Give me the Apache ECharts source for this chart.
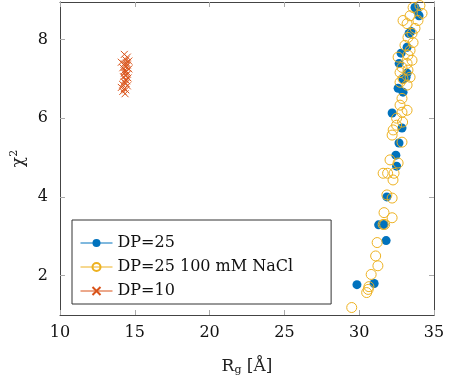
<!DOCTYPE html>
<html>
<head>
<meta charset="utf-8">
<script src="https://cdn.jsdelivr.net/npm/echarts@6/dist/echarts.min.js"></script>
<style>
  html, body { margin: 0; padding: 0; background: #fff; }
  #chart { width: 453px; height: 381px; }
</style>
</head>
<body>
<div id="chart"></div>
<script>
// Rg [Å] vs chi^2
const dp25 = [
  [29.85, 1.77], [31.0, 1.8], [31.8, 2.89], [31.3, 3.29], [31.65, 3.3], [31.85, 4.0],
  [32.5, 4.78], [32.45, 5.06], [32.66, 5.37], [32.86, 5.75], [32.2, 6.13], [32.6, 6.76],
  [32.93, 6.66], [33.13, 7.04], [32.93, 6.99], [33.2, 7.14], [32.67, 7.39], [32.8, 7.65],
  [33.2, 7.8], [33.33, 8.15], [33.46, 8.2], [33.73, 8.81], [33.86, 8.73], [34.0, 8.6]
];
const dp25NaCl = [
  [29.5, 1.19], [30.5, 1.57], [30.6, 1.65], [30.65, 1.72], [30.8, 2.03], [31.25, 2.25],
  [31.1, 2.5], [31.2, 2.84], [31.7, 3.3], [31.66, 3.6], [32.2, 3.47], [31.6, 3.3],
  [31.85, 4.05], [32.2, 3.97], [31.6, 4.6], [31.9, 4.6], [32.26, 4.43], [32.33, 4.6],
  [32.06, 4.94], [32.6, 4.86], [32.2, 5.57], [32.27, 5.7], [32.5, 5.82], [32.9, 5.9],
  [32.86, 5.39], [32.5, 6.0], [32.86, 6.15], [33.2, 6.2], [32.73, 6.33], [32.86, 6.5],
  [33.2, 6.84], [32.73, 6.91], [32.93, 7.0], [33.4, 7.04], [32.73, 7.16], [33.26, 7.22],
  [32.86, 7.29], [33.2, 7.39], [33.53, 7.47], [32.6, 7.55], [33.26, 7.6], [33.4, 7.72],
  [33.06, 7.85], [33.6, 7.92], [33.26, 8.05], [33.53, 8.15], [33.73, 8.28], [33.2, 8.4],
  [32.93, 8.48], [33.93, 8.48], [33.4, 8.6], [34.2, 8.66], [33.6, 8.81], [34.06, 8.86]
];
const dp10 = [
  [14.3, 7.62], [14.5, 7.55], [14.1, 7.42], [14.4, 7.48], [14.6, 7.45], [14.3, 7.38],
  [14.5, 7.35], [14.4, 7.3], [14.2, 7.28], [14.6, 7.25], [14.35, 7.22], [14.45, 7.18],
  [14.3, 7.15], [14.5, 7.12], [14.4, 7.08], [14.25, 7.05], [14.55, 7.02], [14.35, 6.98],
  [14.45, 6.95], [14.3, 6.92], [14.4, 6.88], [14.2, 6.85], [14.5, 6.82], [14.1, 6.78],
  [14.3, 6.75], [14.4, 6.72], [14.2, 6.68], [14.35, 6.62], [14.3, 7.2], [14.45, 7.4]
];
const yTicks = [2, 4, 6, 8];

const font = 'DejaVu Serif';
const chart = echarts.init(document.getElementById('chart'));

chart.setOption({
  animation: false,
  textStyle: { fontFamily: font },
  grid: { left: 60, right: 19, top: 2, bottom: 66 },
  legend: {
    orient: 'vertical',
    left: 72, top: 220,
    padding: [15, 38, 5, 8],
    itemGap: 8,
    itemWidth: 32, itemHeight: 10,
    borderColor: '#333', borderWidth: 1,
    borderRadius: 0,
    backgroundColor: '#fff',
    textStyle: { fontFamily: font, fontSize: 16, color: '#111' },
    lineStyle: { opacity: 1, width: 1 },
    data: ['DP=25', 'DP=25 100 mM NaCl', 'DP=10']
  },
  xAxis: [{
    type: 'value', min: 10, max: 35, interval: 5,
    name: 'R{sub|g} [Å]', nameLocation: 'middle', nameGap: 42,
    nameTextStyle: {
      fontFamily: font, fontSize: 17, color: '#222',
      rich: { sub: { fontSize: 11, verticalAlign: 'bottom', padding: [8, 0, 0, 0], fontFamily: font, color: '#222' } }
    },
    axisLine: { lineStyle: { color: '#444' } },
    axisTick: { inside: true, length: 5, lineStyle: { color: '#aaa' } },
    axisLabel: { fontFamily: font, fontSize: 16, color: '#111', margin: 10 },
    splitLine: { show: false }
  }, {
    type: 'value', min: 10, max: 35, interval: 5, position: 'top',
    axisLine: { lineStyle: { color: '#444' } },
    axisTick: { inside: true, length: 5, lineStyle: { color: '#aaa' } },
    axisLabel: { show: false },
    splitLine: { show: false }
  }],
  yAxis: [{
    type: 'value', min: 1, max: 8.95,
    name: 'χ{sup|2}', nameLocation: 'middle', nameGap: 30,
    nameTextStyle: {
      fontFamily: font, fontSize: 17, color: '#222',
      rich: { sup: { fontSize: 11, verticalAlign: 'top', padding: [0, 0, 8, 0], fontFamily: font, color: '#222' } }
    },
    axisLine: { show: true, lineStyle: { color: '#444' } },
    axisTick: { inside: true, length: 5, customValues: yTicks, lineStyle: { color: '#aaa' } },
    axisLabel: { fontFamily: font, fontSize: 16, color: '#111', margin: 12, customValues: yTicks },
    splitLine: { show: false }
  }, {
    type: 'value', min: 1, max: 8.95, position: 'right',
    axisLine: { show: true, lineStyle: { color: '#444' } },
    axisTick: { inside: true, length: 5, customValues: yTicks, lineStyle: { color: '#aaa' } },
    axisLabel: { show: false },
    splitLine: { show: false }
  }],
  series: [{
    name: 'DP=25', type: 'line', data: dp25,
    symbol: 'circle', symbolSize: 9, showSymbol: true,
    color: '#0072BD',
    lineStyle: { color: '#0072BD', width: 1, opacity: 0 },
    itemStyle: { color: '#0072BD', borderWidth: 0 },
    z: 2
  }, {
    name: 'DP=25 100 mM NaCl', type: 'line', data: dp25NaCl,
    symbol: 'circle', symbolSize: 10, showSymbol: true,
    color: '#EDB120',
    lineStyle: { color: '#EDB120', width: 1, opacity: 0 },
    itemStyle: { color: 'rgba(255,255,255,0)', borderColor: '#EDB120', borderWidth: 1 },
    z: 3
  }, {
    name: 'DP=10', type: 'line', data: dp10,
    symbol: 'path://M0,0L10,10M10,0L0,10', symbolSize: 7, showSymbol: true,
    color: '#D95319',
    lineStyle: { color: '#D95319', width: 1, opacity: 0 },
    itemStyle: { color: 'none', borderColor: '#D95319', borderWidth: 1 },
    z: 4
  }]
});
</script>
</body>
</html>
